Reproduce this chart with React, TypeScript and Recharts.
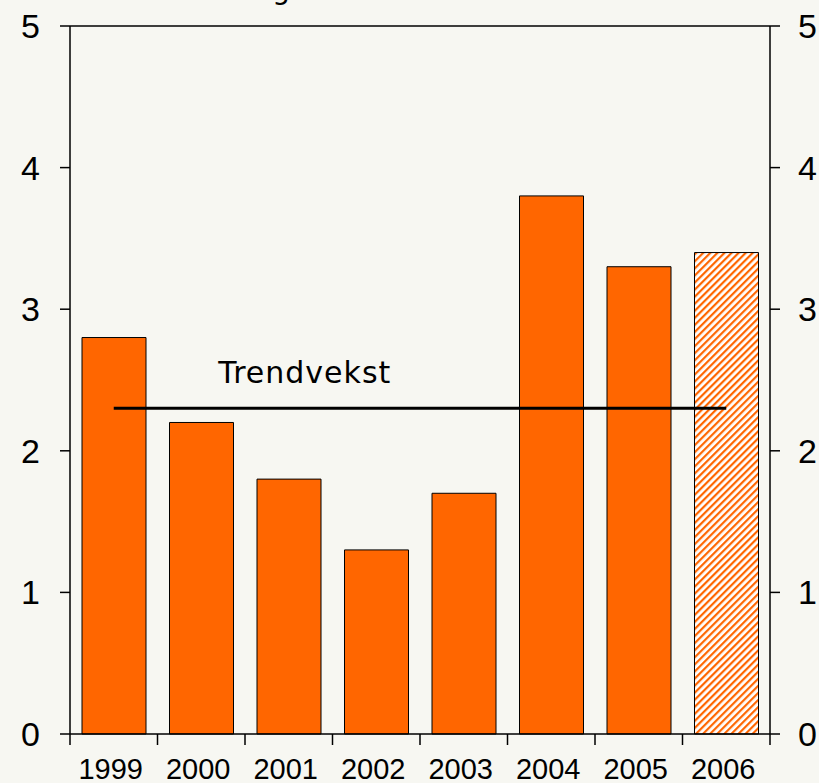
import React from 'react';
import { ComposedChart, Bar, Line, XAxis, YAxis, Cell, ReferenceLine, LabelList } from 'recharts';

const categories = ['1999', '2000', '2001', '2002', '2003', '2004', '2005', '2006'];
const growth = [2.8, 2.2, 1.8, 1.3, 1.7, 3.8, 3.3, 3.4];
const trend = [2.3, 2.3, 2.3, 2.3, 2.3, 2.3, 2.3, 2.3];
const projected = [false, false, false, false, false, false, false, true];
const yTicks = [0, 1, 2, 3, 4, 5];
const trendLabel = 'Trendvekst';
const titleText = 'Årlig vekst';

const data = categories.map((year, i) => ({
  year,
  growth: growth[i],
  trend: trend[i],
  projected: projected[i],
}));

const W = 819;
const H = 783;
const LEFT = 70;
const RIGHT_W = 49;
const PLOT_W = W - LEFT - RIGHT_W;
const BAND = PLOT_W / categories.length;
const ORANGE = '#FF6600';
const BG = '#F7F7F2';
const AXIS_FONT = '"Liberation Sans", Arial, sans-serif';

const XTick = (props: any) => {
  const { x, y, payload, index } = props;
  const last = index === categories.length - 1;
  return (
    <g>
      <line x1={x - BAND / 2} x2={x - BAND / 2} y1={y} y2={y + 11} stroke="#000" strokeWidth={1.5} />
      {last && <line x1={x + BAND / 2} x2={x + BAND / 2} y1={y} y2={y + 11} stroke="#000" strokeWidth={1.5} />}
      <text x={x - 3} y={y + 45} textAnchor="middle" fontSize={29} fontFamily={AXIS_FONT} fill="#000">
        {payload.value}
      </text>
    </g>
  );
};

const YTickLeft = (props: any) => {
  const { x, y, payload } = props;
  return (
    <text x={x} y={y + 12} textAnchor="end" fontSize={34} fontFamily={AXIS_FONT} fill="#000">
      {payload.value}
    </text>
  );
};

const YTickRight = (props: any) => {
  const { x, y, payload } = props;
  return (
    <text x={x} y={y + 12} textAnchor="start" fontSize={34} fontFamily={AXIS_FONT} fill="#000">
      {payload.value}
    </text>
  );
};

const TrendLabel = (props: any) => {
  const { x, y, index } = props;
  if (index !== 1) return null;
  return (
    <text x={x + 17} y={y - 25} fontSize={30} fontFamily='"DejaVu Sans", Verdana, sans-serif' fill="#000" letterSpacing={1}>
      {trendLabel}
    </text>
  );
};

export default function App() {
  return (
    <div style={{ position: 'absolute', left: 0, top: 0, width: W, height: H, background: BG, overflow: 'hidden' }}>
      <svg width={W} height={30} style={{ position: 'absolute', left: 0, top: 0 }}>
        <text x={226} y={-1} fontSize={28} fontFamily='"DejaVu Sans", sans-serif' fill="#000">{titleText}</text>
      </svg>
      <ComposedChart
        width={W}
        height={H}
        data={data}
        margin={{ top: 26, right: 0, bottom: 0, left: 0 }}
        barCategoryGap={0}
      >
        <defs>
          <pattern id="hatch" patternUnits="userSpaceOnUse" width={5} height={5} patternTransform="rotate(45)">
            <rect width={5} height={5} fill="#FFFFFF" />
            <rect width={2.2} height={5} fill={ORANGE} />
          </pattern>
        </defs>
        <XAxis
          dataKey="year"
          height={49}
          interval={0}
          tickLine={false}
          tickSize={0}
          tickMargin={0}
          axisLine={{ stroke: '#000', strokeWidth: 1.5 }}
          tick={<XTick />}
        />
        <YAxis
          yAxisId="left"
          width={LEFT}
          domain={[0, 5]}
          ticks={yTicks}
          interval={0}
          tickSize={10}
          tickMargin={20}
          axisLine={{ stroke: '#000', strokeWidth: 1.5 }}
          tickLine={{ stroke: '#000', strokeWidth: 1.5 }}
          tick={<YTickLeft />}
        />
        <YAxis
          yAxisId="right"
          orientation="right"
          width={RIGHT_W}
          domain={[0, 5]}
          ticks={yTicks}
          interval={0}
          tickSize={10}
          tickMargin={18}
          axisLine={{ stroke: '#000', strokeWidth: 1.5 }}
          tickLine={{ stroke: '#000', strokeWidth: 1.5 }}
          tick={<YTickRight />}
        />
        <ReferenceLine yAxisId="left" y={5} stroke="#000" strokeWidth={1.5} ifOverflow="visible" />
        <Bar yAxisId="left" dataKey="growth" barSize={64} stroke="#000" strokeWidth={1} isAnimationActive={false}>
          {data.map((d, i) => (
            <Cell key={i} fill={d.projected ? 'url(#hatch)' : ORANGE} />
          ))}
        </Bar>
        <Line
          yAxisId="right"
          dataKey="trend"
          stroke="#000"
          strokeWidth={3}
          dot={false}
          activeDot={false}
          isAnimationActive={false}
        >
          <LabelList dataKey="trend" content={<TrendLabel />} />
        </Line>
      </ComposedChart>
    </div>
  );
}
